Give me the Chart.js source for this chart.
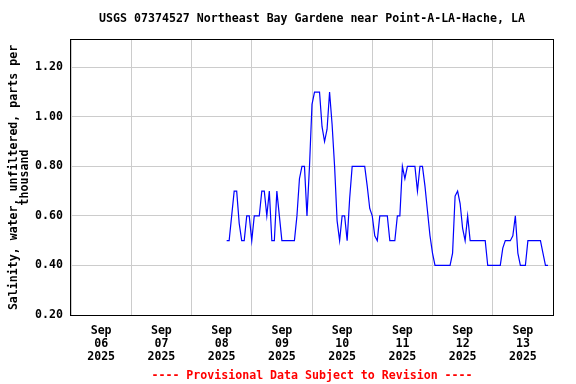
<!DOCTYPE html>
<html>
<head>
<meta charset="utf-8">
<script src="https://cdn.jsdelivr.net/npm/chart.js@4.4.1/dist/chart.umd.min.js"></script>
<style>
  html, body { margin: 0; padding: 0; background: #fff; }
</style>
</head>
<body>
<canvas id="myChart" width="576" height="384"></canvas>
<script>
// first reading, hours after Sep 06 2025 00:00
const startHour = 62;

// hourly salinity (ppt)
const salinity = [
    0.5, 0.5, 0.6, 0.7, 0.7, 0.57, 0.5, 0.5, 0.6, 0.6,
    0.5, 0.6, 0.6, 0.6, 0.7, 0.7, 0.6, 0.7, 0.5, 0.5,
    0.7, 0.6, 0.5, 0.5, 0.5, 0.5, 0.5, 0.5, 0.6, 0.75,
    0.8, 0.8, 0.6, 0.8, 1.05, 1.1, 1.1, 1.1, 0.96, 0.9,
    0.95, 1.1, 0.97, 0.8, 0.58, 0.5, 0.6, 0.6, 0.5, 0.67,
    0.8, 0.8, 0.8, 0.8, 0.8, 0.8, 0.72, 0.63, 0.6, 0.52,
    0.5, 0.6, 0.6, 0.6, 0.6, 0.5, 0.5, 0.5, 0.6, 0.6,
    0.8, 0.75, 0.8, 0.8, 0.8, 0.8, 0.7, 0.8, 0.8, 0.72,
    0.62, 0.52, 0.45, 0.4, 0.4, 0.4, 0.4, 0.4, 0.4, 0.4,
    0.45, 0.68, 0.7, 0.65, 0.55, 0.5, 0.6, 0.5, 0.5, 0.5,
    0.5, 0.5, 0.5, 0.5, 0.4, 0.4, 0.4, 0.4, 0.4, 0.4,
    0.47, 0.5, 0.5, 0.5, 0.52, 0.6, 0.45, 0.4, 0.4, 0.4,
    0.5, 0.5, 0.5, 0.5, 0.5, 0.5, 0.45, 0.4, 0.4
];

const dayLabels = ['06', '07', '08', '09', '10', '11', '12', '13'];
const xTicks = [0, 12, 24, 36, 48, 60, 72, 84, 96, 108, 120, 132, 144, 156, 168, 180, 192];
const yTicks = [0.2, 0.4, 0.6, 0.8, 1.0, 1.2];

const FONT = 'DejaVu Sans Mono';
const GRID = '#cccccc';

const points = salinity.map((v, i) => ({ x: startHour + i, y: v }));

// black box round the plot area
const frame = {
    id: 'frame',
    afterDraw(chart) {
        const a = chart.chartArea;
        const ctx = chart.ctx;
        ctx.save();
        ctx.strokeStyle = '#000';
        ctx.lineWidth = 1;
        ctx.strokeRect(Math.round(a.left) - 0.5, Math.round(a.top) - 0.5,
            Math.round(a.right) - Math.round(a.left) + 1, Math.round(a.bottom) - Math.round(a.top) + 1);
        ctx.restore();
    }
};

new Chart(document.getElementById('myChart'), {
    type: 'line',
    data: {
        datasets: [{
            data: points,
            borderColor: '#0000ff',
            borderWidth: 1.2,
            pointRadius: 0,
            tension: 0,
            fill: false
        }]
    },
    options: {
        responsive: false,
        animation: false,
        layout: { padding: { left: 0, right: 23, top: 0, bottom: 0 } },
        plugins: {
            legend: { display: false },
            tooltip: { enabled: false },
            title: {
                display: true,
                fullSize: false,
                text: 'USGS 07374527 Northeast Bay Gardene near Point-A-LA-Hache, LA',
                color: '#000',
                font: { family: FONT, size: 11.6, weight: 'bold', lineHeight: '14px' },
                padding: { top: 12, bottom: 14 }
            },
            subtitle: {
                display: true,
                fullSize: false,
                position: 'bottom',
                text: '---- Provisional Data Subject to Revision ----',
                color: '#ff0000',
                font: { family: FONT, size: 11.6, weight: 'bold', lineHeight: '14px' },
                padding: { top: 5, bottom: 1 }
            }
        },
        scales: {
            x: {
                type: 'linear',
                min: 0,
                max: 192,
                afterBuildTicks: s => { s.ticks = xTicks.map(v => ({ value: v })); },
                afterFit: s => { s.height = 49; },
                border: { display: false },
                grid: {
                    drawTicks: false,
                    color: c => (c.tick && c.tick.value % 24 === 0) ? GRID : 'rgba(0,0,0,0)'
                },
                ticks: {
                    autoSkip: false,
                    maxRotation: 0,
                    padding: 9,
                    color: '#000',
                    font: { family: FONT, size: 11.6, weight: 'bold', lineHeight: '13px' },
                    callback: v => (v % 24 === 12) ? ['Sep', dayLabels[(v - 12) / 24], '2025'] : ''
                }
            },
            y: {
                min: 0.2,
                max: 1.31,
                afterBuildTicks: s => { s.ticks = yTicks.map(v => ({ value: v })); },
                afterFit: s => { s.width = 71; },
                border: { display: false },
                grid: { drawTicks: false, color: GRID },
                ticks: {
                    padding: 8,
                    color: '#000',
                    font: { family: FONT, size: 11.6, weight: 'bold' },
                    callback: v => v.toFixed(2)
                },
                title: {
                    display: true,
                    text: ['Salinity, water, unfiltered, parts per', 'thousand'],
                    color: '#000',
                    font: { family: FONT, size: 11.6, weight: 'bold', lineHeight: '11px' },
                    padding: { top: 8.5, bottom: 0 }
                }
            }
        }
    },
    plugins: [frame]
});
</script>
</body>
</html>
